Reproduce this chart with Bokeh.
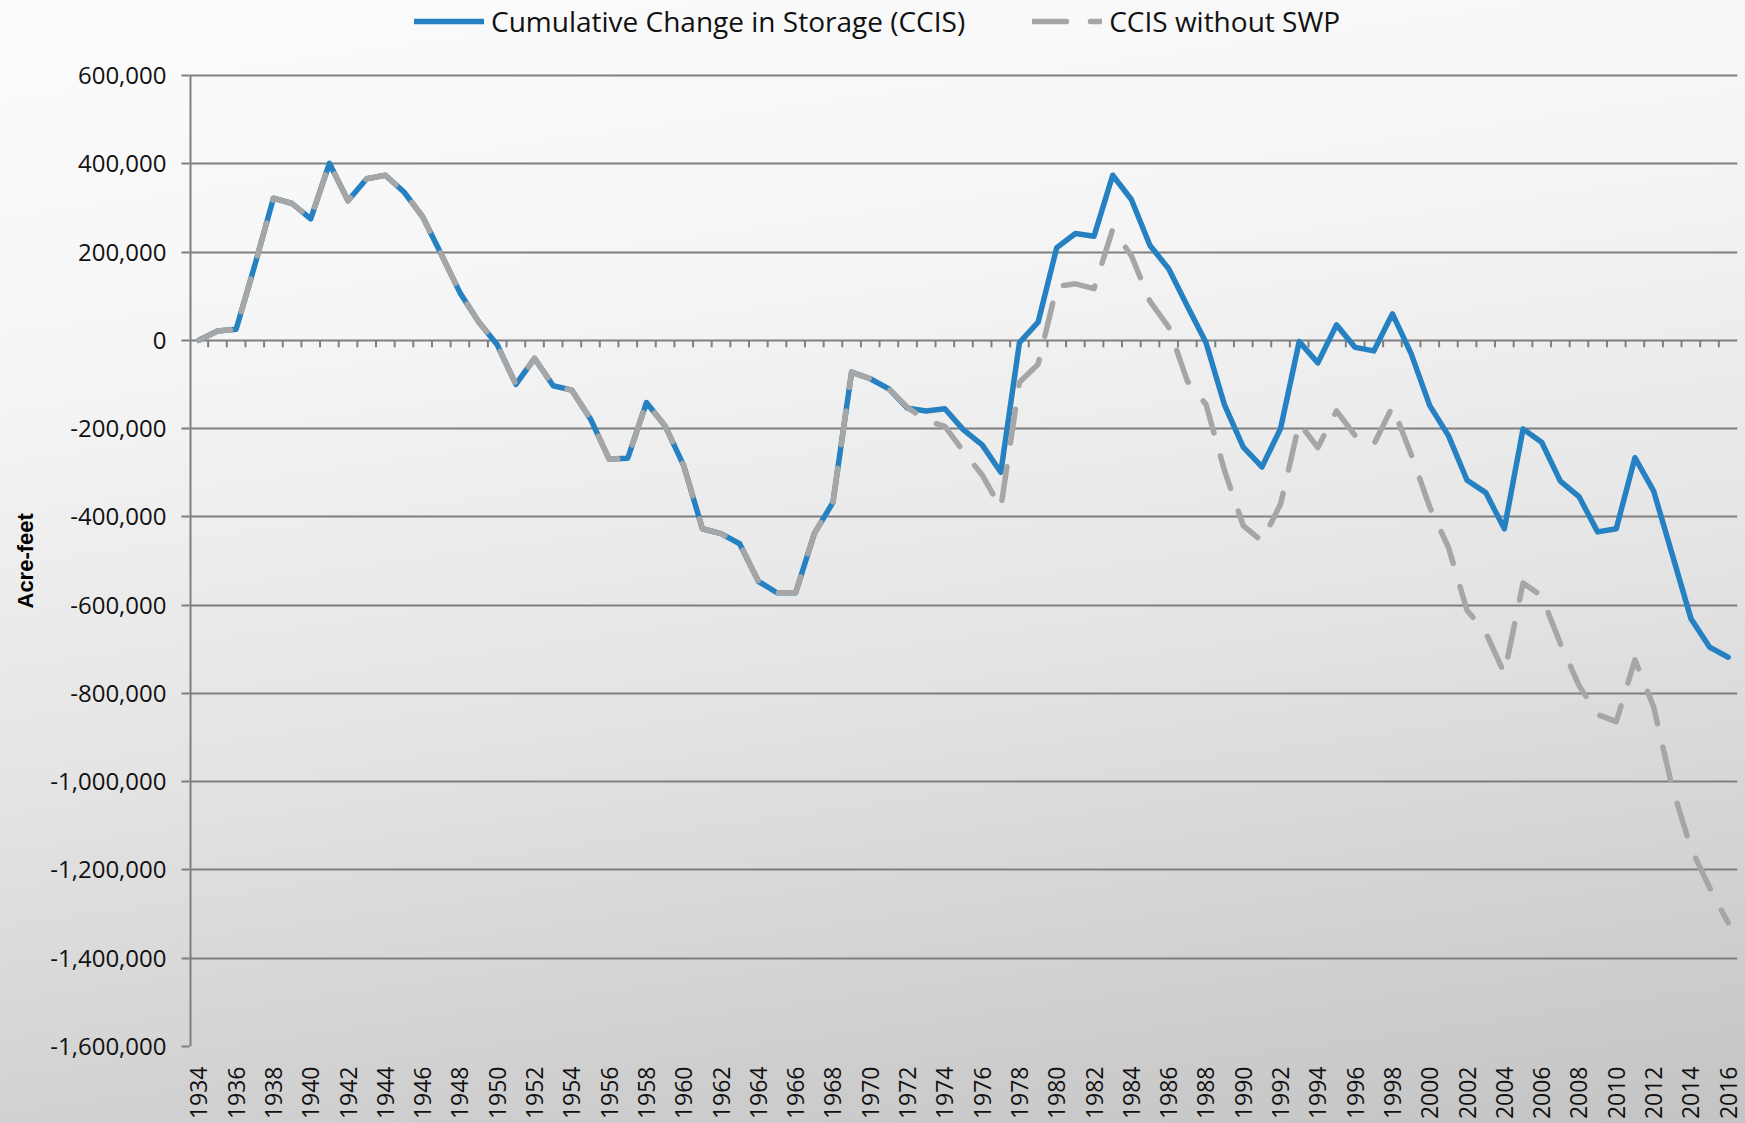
import math
from bokeh.plotting import figure
from bokeh.models import (Range1d, FixedTicker, NumeralTickFormatter, Legend, LegendItem,
                          ColumnDataSource, Title)
from bokeh.embed import file_html
from bokeh.resources import INLINE

years = list(range(1934, 2017))

ccis = [
    0, 21000, 25000, 170000, 322000, 310000, 275000, 401000, 316000, 366000,
    374000, 336000, 280000, 195000, 108000, 42000, -10000, -100000, -41000, -103000,
    -113000, -178000, -269000, -267000, -141000, -194000, -284000, -427000, -438000, -461000,
    -546000, -572000, -572000, -438000, -367000, -72000, -87000, -110000, -154000, -160000,
    -155000, -203000, -237000, -299000, -5000, 41000, 210000, 242000, 236000, 374000,
    319000, 215000, 162000, 78000, -5000, -147000, -242000, -287000, -200000, -3000,
    -51000, 35000, -16000, -24000, 60000, -30000, -148000, -216000, -317000, -345000,
    -427000, -201000, -231000, -319000, -354000, -434000, -427000, -266000, -341000, -485000,
    -630000, -695000, -718000,
]

ccis_no_swp = [
    0, 21000, 25000, 170000, 322000, 310000, 275000, 401000, 316000, 366000,
    374000, 336000, 280000, 195000, 108000, 42000, -10000, -100000, -41000, -103000,
    -113000, -178000, -269000, -267000, -141000, -194000, -284000, -427000, -438000, -461000,
    -546000, -572000, -572000, -438000, -367000, -72000, -87000, -110000, -152000, -182000,
    -195000, -252000, -305000, -380000, -95000, -54000, 122000, 128000, 117000, 252000,
    192000, 88000, 30000, -92000, -145000, -296000, -420000, -455000, -371000, -188000,
    -243000, -160000, -216000, -236000, -150000, -258000, -378000, -469000, -612000, -662000,
    -755000, -550000, -579000, -687000, -782000, -848000, -864000, -724000, -830000, -1013000,
    -1150000, -1240000, -1320000,
]

y_ticks = [-1600000, -1400000, -1200000, -1000000, -800000, -600000, -400000,
           -200000, 0, 200000, 400000, 600000]
x_label_years = list(range(1934, 2017, 2))

series_names = ["Cumulative Change in Storage (CCIS)", "CCIS without SWP"]
y_title = "Acre-feet"

BLUE = "#2681C2"
GRAY = "#A6A6A6"
GRID = "#7F7F7F"

W, H = 1745, 1123
LEFT, BOTTOM, RIGHT = 189, 77, 8
AXIS_TOP_PX = 75                      # screen y of the 600,000 line
FRAME_H = H - BOTTOM                  # frame runs from the top edge
units_per_px = (y_ticks[-1] - y_ticks[0]) / (FRAME_H - AXIS_TOP_PX)
y_top = y_ticks[-1] + AXIS_TOP_PX * units_per_px
LEGEND_BOTTOM_PX = 40

p = figure(width=W, height=H, output_backend="svg", toolbar_location=None,
           x_range=Range1d(years[0] - 0.5, years[-1] + 0.5),
           y_range=Range1d(y_ticks[0], y_top),
           min_border_left=LEFT, min_border_top=0, min_border_right=RIGHT,
           min_border_bottom=BOTTOM)

p.background_fill_alpha = 0
p.border_fill_alpha = 0
p.outline_line_color = None
p.styles = {"background": "linear-gradient(172deg, #fcfcfc 0%, #f5f5f5 28%, #e4e4e4 58%, #cfcfcf 85%, #c4c4c4 100%)"}

# grid
p.xgrid.grid_line_color = None
p.ygrid.ticker = FixedTicker(ticks=y_ticks)
p.ygrid.grid_line_color = GRID
p.ygrid.grid_line_width = 2

# y axis
p.yaxis.ticker = FixedTicker(ticks=y_ticks)
p.yaxis.formatter = NumeralTickFormatter(format="0,0")
p.yaxis.axis_line_color = None
p.yaxis.major_tick_line_color = GRID
p.yaxis.major_tick_line_width = 2
p.yaxis.major_tick_out = 8
p.yaxis.major_tick_in = 0
p.yaxis.minor_tick_line_color = None
p.yaxis.major_label_text_font = "Open Sans"
p.yaxis.major_label_text_font_size = "24px"
p.yaxis.major_label_text_color = "#111111"
p.yaxis.major_label_standoff = 15

# y-axis title, centred on the value span (not on the whole frame)
p.add_layout(Title(text=y_title, align="left", offset=438, standoff=20,
                   text_font="Liberation Sans", text_font_style="bold",
                   text_font_size="22px", text_color="#000000"), "left")

# vertical axis line, only between the lowest and highest value ticks
p.segment(x0=[years[0] - 0.5], y0=[y_ticks[0]], x1=[years[0] - 0.5], y1=[y_ticks[-1]],
          line_color=GRID, line_width=4)

# x axis (labels at bottom)
p.xaxis.ticker = FixedTicker(ticks=x_label_years)
p.xaxis.major_label_overrides = {y: str(y) for y in x_label_years}
p.xaxis.major_label_orientation = math.pi / 2
p.xaxis.axis_line_color = None
p.xaxis.major_tick_line_color = None
p.xaxis.minor_tick_line_color = None
p.xaxis.major_label_text_font = "Open Sans"
p.xaxis.major_label_text_font_size = "23px"
p.xaxis.major_label_text_color = "#111111"
p.xaxis.major_label_standoff = 14

# category-boundary tick marks along the zero line
tick_len = units_per_px * 7
bounds = [y + 0.5 for y in years[:-1]]
p.segment(x0=bounds, y0=[0] * len(bounds), x1=bounds, y1=[-tick_len] * len(bounds),
          line_color=GRID, line_width=2)

src = ColumnDataSource(dict(year=years, ccis=ccis, noswp=ccis_no_swp))
r1 = p.line("year", "ccis", source=src, line_color=BLUE, line_width=5.5,
            line_join="round", line_cap="round")
r2 = p.line("year", "noswp", source=src, line_color=GRAY, line_width=5.5,
            line_dash="34 24", line_join="round", line_cap="round")

legend = Legend(items=[LegendItem(label=series_names[0], renderers=[r1]),
                       LegendItem(label=series_names[1], renderers=[r2])],
                orientation="horizontal",
                location=(414 - LEFT, FRAME_H - LEGEND_BOTTOM_PX),
                background_fill_alpha=0, border_line_color=None,
                label_text_font="Open Sans", label_text_font_size="28px",
                label_text_color="#111111",
                glyph_width=70, glyph_height=24, label_standoff=7, spacing=67,
                padding=0, margin=0)
p.add_layout(legend)

open("out.html", "w").write(file_html(p, INLINE))
